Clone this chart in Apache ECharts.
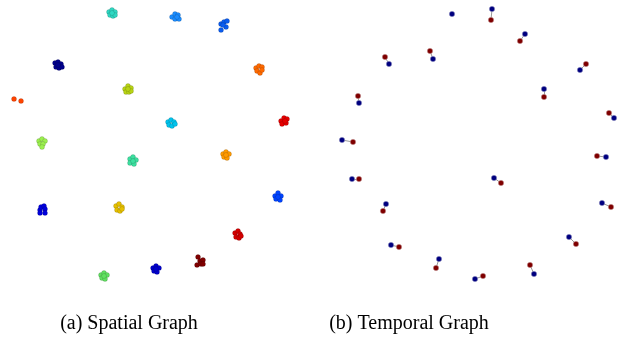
<!DOCTYPE html>
<html>
<head>
  <meta charset="utf-8" />
  <title>Spatial / Temporal Graph</title>
  <style>
    html, body { margin: 0; padding: 0; background: #fff; }
    #chart { width: 619px; height: 339px; }
  </style>
</head>
<body>
  <div id="chart"></div>
  <script src="https://cdn.jsdelivr.net/npm/echarts@6/dist/echarts.min.js"></script>
  <script>
    // panel captions
    var captions = ['(a) Spatial Graph', '(b) Temporal Graph'];

    // spatial graph: cluster colours (jet colormap) and points [x, y, cluster]
    var clusterColors = [
      '#2ed8c2', '#1a8cff', '#0a5cf0', '#00008c', '#ff6a00',
      '#b8d414', '#ff4400', '#00c4ee', '#e60000', '#9cf050',
      '#3ce0a0', '#ff9a00', '#0044ff', '#0000dc', '#e6c000',
      '#d40000', '#800000', '#0000cc', '#60e060'
    ];
    var spatialPoints = [
      [109, 12, 0], [112, 10, 0], [115, 12, 0], [110, 15, 0], [113, 16, 0], [115, 15, 0], [112, 13, 0],
      [172, 17, 1], [175, 14, 1], [178, 15, 1], [175, 19, 1], [179, 19, 1], [177, 17, 1],
      [221, 24, 2], [224, 22, 2], [227, 21, 2], [226, 27, 2], [223, 25, 2], [221, 30, 2],
      [55, 63, 3], [58, 62, 3], [61, 64, 3], [56, 67, 3], [59, 68, 3], [62, 67, 3], [58, 65, 3],
      [256, 68, 4], [259, 66, 4], [262, 67, 4], [257, 71, 4], [260, 73, 4], [262, 70, 4],
      [125, 89, 5], [128, 86, 5], [131, 88, 5], [126, 92, 5], [129, 92, 5], [131, 91, 5], [128, 89, 5],
      [14, 99, 6], [21, 101, 6],
      [168, 122, 7], [171, 120, 7], [174, 122, 7], [169, 125, 7], [172, 126, 7], [175, 124, 7],
      [281, 121, 8], [284, 118, 8], [287, 119, 8], [282, 124, 8], [286, 123, 8], [285, 121, 8],
      [39, 141, 9], [42, 139, 9], [45, 141, 9], [40, 144, 9], [43, 144, 9], [42, 147, 9],
      [130, 159, 10], [133, 157, 10], [136, 160, 10], [130, 163, 10], [134, 164, 10], [133, 161, 10],
      [223, 154, 11], [226, 152, 11], [229, 154, 11], [224, 157, 11], [227, 158, 11], [226, 155, 11],
      [275, 196, 12], [278, 193, 12], [281, 196, 12], [276, 199, 12], [280, 200, 12], [278, 197, 12],
      [40, 210, 13], [41, 207, 13], [44, 206, 13], [45, 209, 13], [40, 213, 13], [45, 213, 13],
      [116, 206, 14], [119, 204, 14], [122, 207, 14], [117, 210, 14], [120, 211, 14], [122, 209, 14],
      [235, 233, 15], [238, 231, 15], [240, 234, 15], [236, 237, 15], [239, 238, 15], [241, 236, 15],
      [198, 257, 16], [200, 261, 16], [203, 260, 16], [197, 265, 16], [201, 264, 16], [203, 264, 16],
      [153, 268, 17], [156, 266, 17], [159, 268, 17], [154, 271, 17], [157, 272, 17], [156, 269, 17],
      [101, 275, 18], [104, 273, 18], [107, 275, 18], [102, 278, 18], [105, 279, 18], [104, 276, 18]
    ];

    // temporal graph: linked pairs, blue node then red node
    var temporalBlue = [
      [492, 9], [525, 34], [389, 64], [433, 59], [580, 70], [544, 89], [359, 103], [614, 118],
      [342, 140], [606, 157], [352, 179], [494, 178], [386, 204], [602, 203], [391, 245],
      [569, 237], [439, 259], [534, 274], [475, 279]
    ];
    var temporalRed = [
      [491, 20], [520, 41], [385, 57], [430, 51], [586, 64], [544, 97], [358, 96], [609, 113],
      [353, 142], [597, 156], [359, 179], [501, 183], [383, 211], [611, 207], [399, 247],
      [576, 244], [436, 268], [530, 265], [483, 276]
    ];
    var temporalSingle = [[452, 14]];

    var chart = echarts.init(document.getElementById('chart'));

    var links = [];
    for (var i = 0; i < temporalBlue.length; i++) {
      links.push({ coords: [temporalBlue[i], temporalRed[i]] });
    }

    var hiddenAxis = { show: false, axisLine: { show: false }, splitLine: { show: false } };
    var captionStyle = { fontFamily: 'Liberation Serif', fontSize: 20, fontWeight: 'normal', color: '#000' };

    var option = {
      animation: false,
      backgroundColor: '#fff',
      title: [{
        text: captions[0],
        left: 124, top: 309, textAlign: 'center',
        textStyle: captionStyle
      }, {
        text: captions[1],
        left: 404, top: 309, textAlign: 'center',
        textStyle: captionStyle
      }],
      grid: [
        { left: 0, top: 0, width: 310, height: 300 },
        { left: 310, top: 0, width: 309, height: 300 }
      ],
      xAxis: [
        Object.assign({ type: 'value', gridIndex: 0, min: 0, max: 310 }, hiddenAxis),
        Object.assign({ type: 'value', gridIndex: 1, min: 310, max: 619 }, hiddenAxis)
      ],
      yAxis: [
        Object.assign({ type: 'value', gridIndex: 0, min: 0, max: 300, inverse: true }, hiddenAxis),
        Object.assign({ type: 'value', gridIndex: 1, min: 0, max: 300, inverse: true }, hiddenAxis)
      ],
      series: [{
        type: 'scatter',
        xAxisIndex: 0, yAxisIndex: 0,
        symbolSize: 5,
        data: spatialPoints,
        itemStyle: {
          color: function (p) { return clusterColors[p.data[2]]; },
          borderColor: 'rgba(0,0,0,0.25)',
          borderWidth: 0.5,
          opacity: 1
        }
      }, {
        type: 'lines',
        coordinateSystem: 'cartesian2d',
        xAxisIndex: 1, yAxisIndex: 1,
        data: links,
        lineStyle: { color: '#999', width: 1, opacity: 1 },
        z: 1
      }, {
        type: 'scatter',
        xAxisIndex: 1, yAxisIndex: 1,
        symbolSize: 5.5,
        data: temporalBlue.concat(temporalSingle),
        itemStyle: { color: '#00007f', borderColor: '#ccd', borderWidth: 0.4, opacity: 1 },
        z: 3
      }, {
        type: 'scatter',
        xAxisIndex: 1, yAxisIndex: 1,
        symbolSize: 5.5,
        data: temporalRed,
        itemStyle: { color: '#7f0000', borderColor: '#dcc', borderWidth: 0.4, opacity: 1 },
        z: 3
      }]
    };

    chart.setOption(option);
  </script>
</body>
</html>
